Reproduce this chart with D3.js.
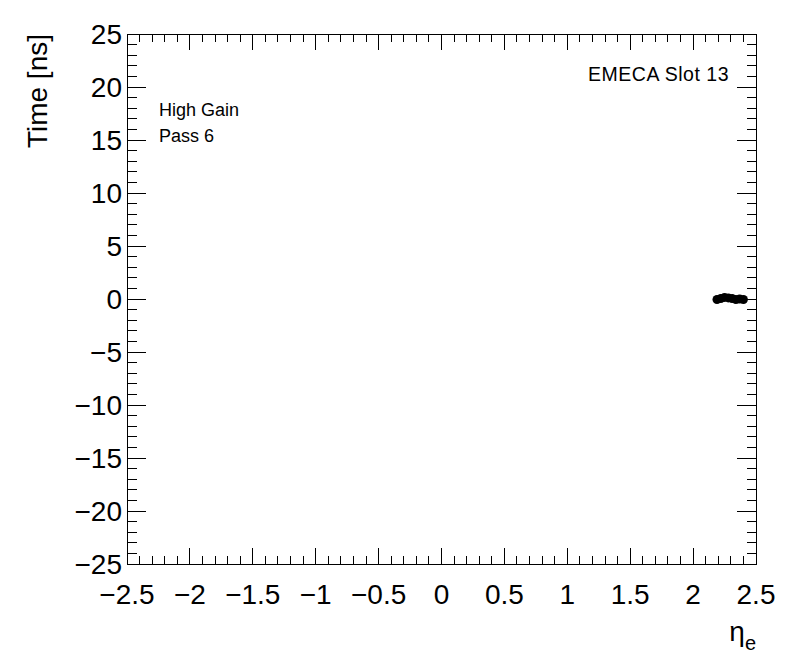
<!DOCTYPE html>
<html>
<head>
<meta charset="utf-8">
<script src="https://cdn.jsdelivr.net/npm/d3@7"></script>
<style>
  body { margin: 0; background: #fff; }
  svg { display: block; font-family: "Liberation Sans", Arial, sans-serif; }
</style>
</head>
<body>
<svg></svg>
<script>
// Data
const etaValues = [2.19, 2.22, 2.25, 2.28, 2.31, 2.34, 2.37, 2.40];
const timeValues = [-0.05, 0.05, 0.15, 0.1, 0.05, -0.05, 0.0, -0.05];
const xTicks = [-2.5, -2, -1.5, -1, -0.5, 0, 0.5, 1, 1.5, 2, 2.5];
const yTicks = [-25, -20, -15, -10, -5, 0, 5, 10, 15, 20, 25];
const labels = ["High Gain", "Pass 6"];

const width = 796, height = 672;
const svg = d3.select("svg").attr("width", width).attr("height", height);

// Frame position
const margin = {top: 34, right: 40, bottom: 108, left: 127};
const plotW = width - margin.left - margin.right;
const plotH = height - margin.top - margin.bottom;

const x = d3.scaleLinear().domain([-2.5, 2.5]).range([0, plotW]);
const y = d3.scaleLinear().domain([-25, 25]).range([plotH, 0]);

const g = svg.append("g").attr("transform", `translate(${margin.left},${margin.top})`);

// ROOT-style ticks on all four sides
const xMinor = d3.range(-25, 26).map(d => d / 10).filter(d => !xTicks.includes(d));
const yMinor = d3.range(-25, 26).filter(d => !yTicks.includes(d));
const xMajLen = 16, xMinLen = 8, yMajLen = 19, yMinLen = 9.5;

function tickLines(sel, vals, len, horizontal) {
    vals.forEach(v => {
        if (horizontal) {
            sel.append("line").attr("x1", x(v)).attr("x2", x(v)).attr("y1", plotH).attr("y2", plotH - len);
            sel.append("line").attr("x1", x(v)).attr("x2", x(v)).attr("y1", 0).attr("y2", len);
        } else {
            sel.append("line").attr("y1", y(v)).attr("y2", y(v)).attr("x1", 0).attr("x2", len);
            sel.append("line").attr("y1", y(v)).attr("y2", y(v)).attr("x1", plotW).attr("x2", plotW - len);
        }
    });
}
const ticks = g.append("g").attr("stroke", "#000").attr("stroke-width", 1).attr("shape-rendering", "crispEdges");
tickLines(ticks, xTicks, xMajLen, true);
tickLines(ticks, xMinor, xMinLen, true);
tickLines(ticks, yTicks, yMajLen, false);
tickLines(ticks, yMinor, yMinLen, false);

g.append("rect")
    .attr("width", plotW).attr("height", plotH)
    .attr("fill", "none").attr("stroke", "#000").attr("shape-rendering", "crispEdges");

const fmt = d3.format("");

// Tick labels
g.selectAll("text.xt")
    .data(xTicks)
    .join("text")
    .attr("class", "xt")
    .attr("x", d => x(d))
    .attr("y", plotH + 30)
    .attr("text-anchor", "middle")
    .attr("dominant-baseline", "central")
    .style("font-size", "28px")
    .text(d => fmt(d));

g.selectAll("text.yt")
    .data(yTicks)
    .join("text")
    .attr("class", "yt")
    .attr("x", -5)
    .attr("y", d => y(d))
    .attr("text-anchor", "end")
    .attr("dominant-baseline", "central")
    .style("font-size", "28px")
    .text(d => fmt(d));

// Axis titles
svg.append("text")
    .attr("transform", `translate(47,${margin.top}) rotate(-90)`)
    .attr("text-anchor", "end")
    .style("font-size", "28px")
    .text("Time [ns]");

const xt = svg.append("text")
    .attr("x", margin.left + plotW)
    .attr("y", 641)
    .attr("text-anchor", "end")
    .style("font-size", "28px");
xt.append("tspan").text("η");
xt.append("tspan").attr("dy", 9).style("font-size", "20px").text("e");

// Data points
g.selectAll("circle")
    .data(etaValues.map((e, i) => ({eta: e, t: timeValues[i]})))
    .join("circle")
    .attr("cx", d => x(d.eta))
    .attr("cy", d => y(d.t))
    .attr("r", 4.5)
    .attr("fill", "#000");

// Labels
svg.append("text")
    .attr("x", 729).attr("y", 81)
    .attr("text-anchor", "end")
    .style("font-size", "19.5px")
    .style("letter-spacing", "0.5px")
    .text("EMECA Slot 13");

svg.selectAll("text.lab")
    .data(labels)
    .join("text")
    .attr("class", "lab")
    .attr("x", 159)
    .attr("y", (d, i) => 116 + i * 26)
    .style("font-size", "18px")
    .text(d => d);
</script>
</body>
</html>
